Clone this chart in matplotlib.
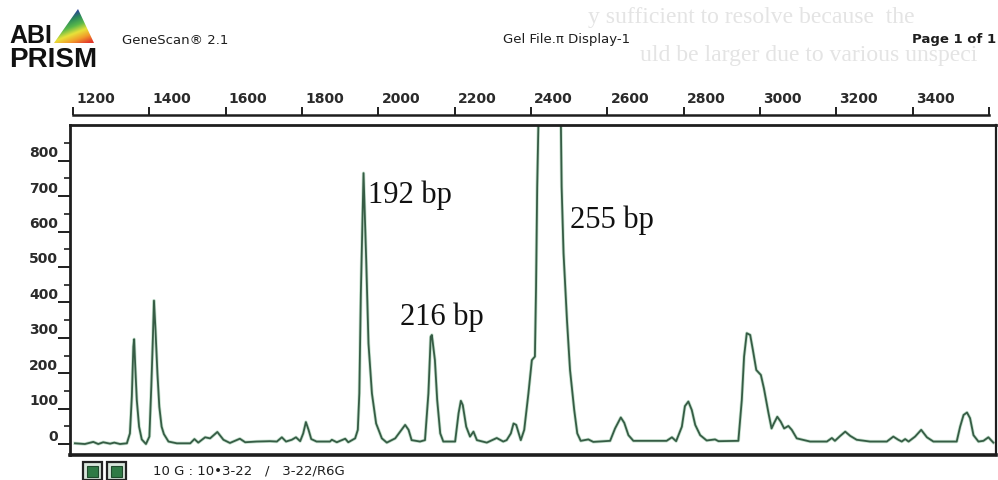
import numpy as np
import matplotlib
matplotlib.use("Agg")
import matplotlib.pyplot as plt
from matplotlib.patches import Polygon, Rectangle
from matplotlib.transforms import ScaledTranslation, blended_transform_factory
from matplotlib.colors import LinearSegmentedColormap

# Electropherogram trace: scan number vs. fluorescence signal
scan = [1205, 1231, 1253, 1266, 1279, 1297, 1308, 1323, 1341, 1349, 1354, 1358,
        1360, 1363, 1367, 1373, 1380, 1391, 1400, 1405, 1409, 1412, 1416, 1421,
        1426, 1432, 1438, 1450, 1472, 1507, 1518, 1528, 1546, 1559, 1578, 1594,
        1611, 1637, 1651, 1681, 1716, 1734, 1747, 1758, 1773, 1784, 1795, 1803,
        1810, 1817, 1824, 1838, 1873, 1878, 1891, 1913, 1921, 1939, 1946, 1950,
        1954, 1961, 1968, 1974, 1983, 1994, 2009, 2022, 2044, 2070, 2079, 2087,
        2109, 2122, 2131, 2137, 2140, 2148, 2154, 2162, 2170, 2201, 2210, 2216,
        2221, 2230, 2240, 2249, 2258, 2284, 2310, 2327, 2336, 2347, 2354, 2361,
        2373, 2382, 2393, 2402, 2410, 2413, 2416, 2419, 2422, 2448, 2476, 2478,
        2480, 2485, 2494, 2502, 2513, 2521, 2530, 2550, 2563, 2607, 2620, 2635,
        2644, 2655, 2668, 2755, 2769, 2780, 2795, 2803, 2812, 2821, 2830, 2843,
        2860, 2882, 2891, 2943, 2952, 2958, 2965, 2974, 2981, 2990, 3002, 3010,
        3022, 3030, 3036, 3045, 3054, 3063, 3074, 3083, 3096, 3131, 3175, 3188,
        3196, 3210, 3223, 3236, 3253, 3288, 3332, 3349, 3362, 3371, 3380, 3389,
        3406, 3422, 3437, 3454, 3515, 3524, 3533, 3542, 3550, 3559, 3572, 3585,
        3598, 3611]
signal = [2, 0, 6, 0, 5, 1, 4, 0, 2, 30, 134, 275,
          296, 218, 124, 49, 13, 0, 21, 162, 294, 405, 322, 200,
          105, 49, 28, 7, 2, 2, 14, 4, 19, 16, 34, 12,
          3, 15, 5, 7, 8, 7, 19, 7, 12, 19, 8, 30,
          62, 40, 14, 7, 7, 12, 5, 15, 5, 16, 40, 143,
          426, 765, 520, 284, 143, 58, 16, 4, 16, 54, 40, 11,
          7, 11, 143, 303, 308, 237, 124, 30, 7, 7, 87, 122,
          110, 49, 21, 35, 11, 4, 17, 7, 11, 30, 58, 54,
          11, 40, 143, 237, 247, 444, 727, 896, 1100, 1900, 1100, 915,
          727, 539, 350, 209, 96, 30, 9, 13, 6, 9, 44, 75,
          60, 25, 9, 9, 19, 8, 49, 107, 120, 96, 54, 25,
          10, 13, 8, 9, 124, 247, 313, 308, 266, 209, 195, 157,
          87, 44, 58, 77, 63, 44, 51, 40, 16, 7, 7, 17,
          9, 23, 35, 23, 12, 7, 7, 21, 12, 7, 14, 7,
          21, 40, 19, 7, 7, 49, 82, 89, 73, 25, 7, 9,
          19, 4]

ruler_ticks = [1200, 1400, 1600, 1800, 2000, 2200, 2400, 2600, 2800,
               3000, 3200, 3400]
ruler_end = 3600
y_ticks = [0, 100, 200, 300, 400, 500, 600, 700, 800]
y_minor = [-50 + 100 * k for k in range(1, 10)]
peak_names = ["192 bp", "216 bp", "255 bp"]

# faint print showing through from the reverse of the page
backside_lines = ["y sufficient to resolve because  the",
                  "uld be larger due to various unspeci"]

W, H = 998, 480
fig = plt.figure(figsize=(W / 100, H / 100), dpi=100)
fig.patch.set_facecolor("white")

INK = "#1e1e1e"
TRACE = "#365c45"


def fx(px):
    return px / W


def fy(py):
    return 1 - py / H


# --- page overlay in pixel units (header, footer) ---
page = fig.add_axes([0, 0, 1, 1], zorder=0)
page.set_xlim(0, W)
page.set_ylim(H, 0)
page.axis("off")

for (x0, y0), line in zip([(588, 18), (640, 55)], backside_lines):
    page.text(x0, y0, line, fontsize=17, family="Liberation Serif",
              color="#e4e4e4", ha="left", va="center", zorder=0)

# rainbow prism logo
tri = Polygon([[78, 9], [54, 43], [94, 43]], closed=True, facecolor="none",
              edgecolor="none")
page.add_patch(tri)
rainbow = LinearSegmentedColormap.from_list(
    "prism", ["#1b1f5e", "#2a3f9a", "#2c8a5a", "#59b84a", "#e8e23a",
              "#f29b2a", "#e2372b"])
gx, gy = np.meshgrid(np.linspace(0, 1, 80), np.linspace(0, 1, 80))
grad = np.clip(0.75 * gy + 0.35 * gx - 0.05, 0, 1)
im = page.imshow(grad, cmap=rainbow, extent=[54, 94, 43, 9], zorder=1,
                 interpolation="bilinear", aspect="auto")
im.set_clip_path(tri)
page.text(9, 43, "ABI", fontsize=18, fontweight="bold", family="Liberation Sans",
          color="#111", ha="left", va="baseline")
page.text(9, 67, "PRISM", fontsize=20, fontweight="bold",
          family="Liberation Sans", color="#111", ha="left", va="baseline")

hdr = dict(fontsize=9.5, family="DejaVu Sans", color=INK, va="center")
page.text(122, 40, "GeneScan\u00ae 2.1", ha="left", **hdr)
page.text(503, 39, "Gel File.\u03c0 Display-1", ha="left", **hdr)
page.text(996, 39, "Page 1 of 1", ha="right", fontweight="bold", **hdr)

# dye selector boxes and run label
for x0 in (83, 107):
    page.add_patch(Rectangle((x0, 462), 19, 18, facecolor="#d9e6dc",
                             edgecolor="#222", lw=1.6, zorder=2))
    page.add_patch(Rectangle((x0 + 4, 466), 11, 11, facecolor="#2f7a45",
                             edgecolor="#1f4a2c", lw=0.8, zorder=3))
page.text(153, 471, "10 G : 10\u20223-22   /   3-22/R6G", fontsize=9.5,
          family="DejaVu Sans", color=INK, ha="left", va="center")

# --- main trace panel ---
L, R, T, B = 70, 996, 125, 455
ax = fig.add_axes([fx(L), fy(B), fx(R) - fx(L), fy(T) - fy(B)], zorder=2)
ax.set_facecolor("none")
ax.set_xlim(1192, 3618)
ax.set_ylim(-31, 901)

ax.plot(scan, signal, color="#58a870", lw=2.4, alpha=0.35,
        solid_joinstyle="round")
ax.plot(scan, signal, color=TRACE, lw=1.3, solid_joinstyle="round")

for side, lw in (("top", 2.0), ("bottom", 2.6), ("left", 2.0), ("right", 1.6)):
    ax.spines[side].set_linewidth(lw)
    ax.spines[side].set_color(INK)

ax.set_xticks([])
ax.set_yticks(y_ticks)
ax.set_yticks(y_minor, minor=True)
ax.tick_params(axis="y", which="major", direction="out", length=9, width=1.4,
               color=INK, labelleft=False)
ax.tick_params(axis="y", which="minor", direction="out", length=4, width=1.2,
               color=INK)

ylab_tf = (blended_transform_factory(ax.transAxes, ax.transData)
           + ScaledTranslation(-0.12, 0.075, fig.dpi_scale_trans))
for v in y_ticks:
    ax.text(0, v, str(v), transform=ylab_tf, ha="right", va="center",
            fontsize=10, fontweight="bold", family="DejaVu Sans", color="#2a2a2a")

# peak size calls
ann = dict(fontsize=22, family="Liberation Serif", color="#111",
           ha="left", va="baseline")
ax.text(1973, 681, peak_names[0], **ann)
ax.text(2057, 336, peak_names[1], **ann)
ax.text(2502, 610, peak_names[2], **ann)

# --- scan-number ruler above the panel ---
ruler_y = 115
rax = fig.add_axes([fx(L), fy(ruler_y), fx(R) - fx(L), 0.0005], zorder=2)
rax.set_facecolor("none")
rax.set_xlim(1192, 3618)
rax.set_yticks([])
for side in ("top", "left", "right"):
    rax.spines[side].set_visible(False)
rax.spines["bottom"].set_bounds(ruler_ticks[0], ruler_end)
rax.spines["bottom"].set_linewidth(1.8)
rax.spines["bottom"].set_color(INK)
rax.set_xticks(ruler_ticks + [ruler_end])
rax.set_xticklabels([str(t) for t in ruler_ticks] + [""])
rax.tick_params(axis="x", direction="in", length=6, width=1.4, color=INK,
                labelbottom=False, labeltop=True, pad=6, top=False,
                bottom=True, labelsize=10, labelcolor="#2a2a2a")
shift = ScaledTranslation(0.03, 0, fig.dpi_scale_trans)
for lab in rax.get_xticklabels():
    lab.set_horizontalalignment("left")
    lab.set_fontweight("bold")
    lab.set_transform(lab.get_transform() + shift)

fig.savefig("out.png", dpi=100, facecolor="white")
